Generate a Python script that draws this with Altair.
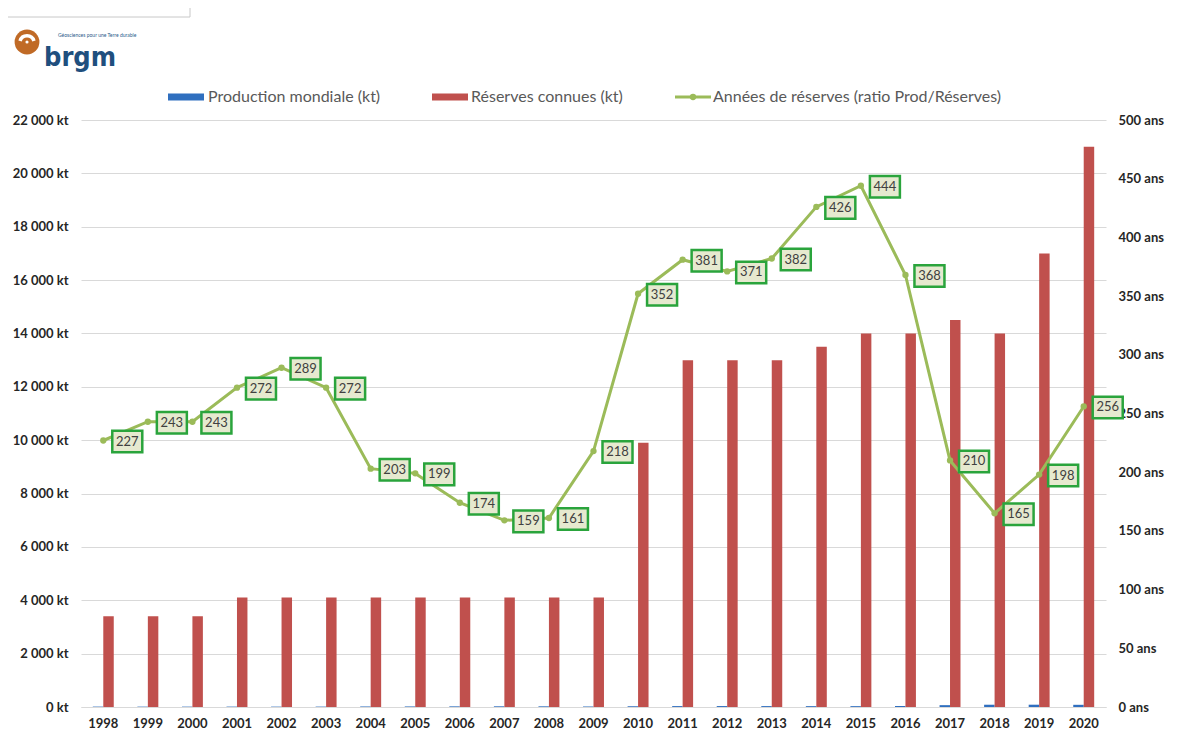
import altair as alt
import pandas as pd

years = [str(y) for y in range(1998, 2021)]
production_kt = [15, 14, 14, 15, 14, 15, 20, 21, 24, 26, 25, 19, 28, 34, 35, 34, 32, 32, 38, 69, 85, 86, 82]
reserves_kt = [3400, 3400, 3400, 4100, 4100, 4100, 4100, 4100, 4100, 4100, 4100, 4100,
               9900, 13000, 13000, 13000, 13500, 14000, 14000, 14500, 14000, 17000, 21000]
ratio_years = [227, 243, 243, 272, 289, 272, 203, 199, 174, 159, 161, 218,
               352, 381, 371, 382, 426, 444, 368, 210, 165, 198, 256]

series_names = ["Production mondiale (kt)", "Réserves connues (kt)"]
series_colors = ["#2f6fbf", "#c0504d"]
line_name = "Années de réserves (ratio Prod/Réserves)"
line_color = "#9bbb59"
label_border = "#2aa43c"
label_fill = "#e6e9cf"

bars_df = pd.DataFrame({
    "year": years * 2,
    "series": [series_names[0]] * len(years) + [series_names[1]] * len(years),
    "value": production_kt + reserves_kt,
})
ratio_df = pd.DataFrame({"year": years, "ratio": ratio_years})

FONT = "Lato"
AXFS = 13
one = pd.DataFrame({"k": [0]})
TOP = 112
DY = 111 - TOP  # shift for decorations placed relative to plot origin

x_enc = alt.X("year:N", sort=years, title=None,
              scale=alt.Scale(paddingInner=0.53, paddingOuter=0.265),
              axis=alt.Axis(labelAngle=0, ticks=False, domain=True, domainColor="#d9d9d9",
                            labelPadding=10, labelFont=FONT, labelFontWeight="bold",
                            labelFontSize=AXFS, labelColor="#262626"))

bars = alt.Chart(bars_df).mark_bar().encode(
    x=x_enc,
    xOffset=alt.XOffset("series:N", sort=series_names,
                        scale=alt.Scale(paddingInner=0, paddingOuter=0)),
    y=alt.Y("value:Q", title=None,
            scale=alt.Scale(domain=[0, 22000], nice=False),
            axis=alt.Axis(orient="left", values=list(range(0, 22001, 2000)),
                          labelExpr="replace(format(datum.value, ','), ',', ' ') + ' kt'",
                          grid=True, gridColor="#d9d9d9", domain=False, ticks=False,
                          labelPadding=13, labelFont=FONT, labelFontWeight="bold",
                          labelFontSize=AXFS, labelColor="#262626")),
    color=alt.Color("series:N", scale=alt.Scale(domain=series_names, range=series_colors),
                    legend=None),
)

y_ratio = alt.Y("ratio:Q", title=None,
                scale=alt.Scale(domain=[0, 500], nice=False),
                axis=alt.Axis(orient="right", values=list(range(0, 501, 50)),
                              labelExpr="datum.value + ' ans'",
                              grid=False, domain=False, ticks=False,
                              labelPadding=12, labelFont=FONT, labelFontWeight="bold",
                              labelFontSize=AXFS, labelColor="#262626"))

base = alt.Chart(ratio_df).encode(x=alt.X("year:N", sort=years), y=y_ratio)
line = base.mark_line(color=line_color, strokeWidth=3)
pts = base.mark_point(filled=True, size=40, color=line_color, opacity=1)
boxes = base.mark_point(shape="M-1,-0.72H1V0.72H-1Z", size=900, filled=True,
                        fill=label_fill, stroke=label_border, strokeWidth=2.5,
                        opacity=1, xOffset=24, yOffset=1)
texts = base.mark_text(dx=24, dy=1, font=FONT, fontSize=13, color="#404040").encode(
    text="ratio:Q")
ratio_layer = alt.layer(line, pts, boxes, texts)

# legend
LY = -22 + DY
LFS = 16
leg = [
    alt.Chart(one).mark_rect(color=series_colors[0]).encode(
        x=alt.value(87), x2=alt.value(123), y=alt.value(LY - 3.5), y2=alt.value(LY + 3.5)),
    alt.Chart(one).mark_text(align="left", baseline="middle", font=FONT, fontSize=LFS,
                             color="#595959").encode(
        x=alt.value(127), y=alt.value(LY), text=alt.value(series_names[0])),
    alt.Chart(one).mark_rect(color=series_colors[1]).encode(
        x=alt.value(351), x2=alt.value(387), y=alt.value(LY - 3.5), y2=alt.value(LY + 3.5)),
    alt.Chart(one).mark_text(align="left", baseline="middle", font=FONT, fontSize=LFS,
                             color="#595959").encode(
        x=alt.value(390), y=alt.value(LY), text=alt.value(series_names[1])),
    alt.Chart(one).mark_rule(color=line_color, strokeWidth=3).encode(
        x=alt.value(594), x2=alt.value(630), y=alt.value(LY)),
    alt.Chart(one).mark_point(filled=True, size=40, color=line_color, opacity=1).encode(
        x=alt.value(612), y=alt.value(LY)),
    alt.Chart(one).mark_text(align="left", baseline="middle", font=FONT, fontSize=LFS,
                             color="#595959").encode(
        x=alt.value(632), y=alt.value(LY), text=alt.value(line_name)),
]

# logo + top box
logo = [
    alt.Chart(one).mark_rule(color="#c8c8c8", strokeWidth=1).encode(
        x=alt.value(-74), x2=alt.value(109), y=alt.value(-102 + DY)),
    alt.Chart(one).mark_rule(color="#c8c8c8", strokeWidth=1).encode(
        x=alt.value(109), y=alt.value(-111 + DY), y2=alt.value(-102 + DY)),
    alt.Chart(one).mark_point(filled=True, size=615, color="#c06a26", opacity=1).encode(
        x=alt.value(-54), y=alt.value(-77 + DY)),
    alt.Chart(one).mark_arc(radius=9, radius2=5.5, theta=5.0, theta2=7.57, color="white").encode(
        x=alt.value(-54), y=alt.value(-76 + DY)),
    alt.Chart(one).mark_point(filled=True, size=10, color="white", opacity=1).encode(
        x=alt.value(-54), y=alt.value(-77 + DY)),
    alt.Chart(one).mark_text(align="left", baseline="alphabetic",
                             font="Liberation Sans Narrow, DejaVu Sans Condensed",
                             fontWeight="bold", fontSize=27, color="#1f4f7e").encode(
        x=alt.value(-37), y=alt.value(-53 + DY), text=alt.value("brgm")),
    alt.Chart(one).mark_text(align="left", baseline="middle", font=FONT, fontSize=5,
                             color="#2a5a8a").encode(
        x=alt.value(-23), y=alt.value(-84 + DY), text=alt.value("Géosciences pour une Terre durable")),
]

chart = alt.layer(bars, ratio_layer, *leg, *logo).resolve_scale(
    y="independent"
).properties(
    width=1025, height=587,
    autosize=alt.AutoSizeParams(type="none"),
    padding={"left": 73, "top": TOP, "right": 63, "bottom": 722 - TOP - 587},
    background="white",
).configure_view(stroke=None)

chart.save("out.html", embed_options={"renderer": "svg", "actions": False})
